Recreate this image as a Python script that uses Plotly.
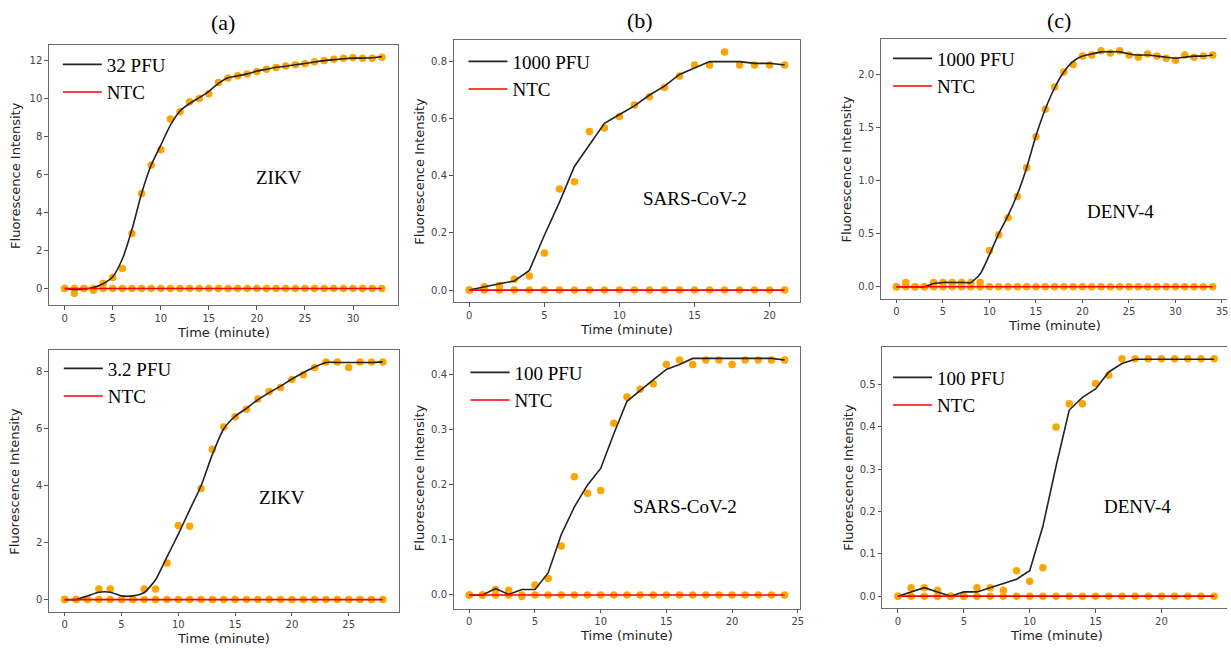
import plotly.graph_objects as go

W, H = 1231, 648

# ---------------- data ----------------
t1 = list(range(34))
dots1 = [0, -0.25, 0, -0.1, 0.26, 0.58, 1.05, 2.9, 5.0, 6.5, 7.3, 8.93, 9.3, 9.83, 10.0, 10.26,
         10.85, 11.08, 11.2, 11.29, 11.43, 11.55, 11.64, 11.71, 11.78, 11.83, 11.94, 12.0, 12.07,
         12.13, 12.16, 12.13, 12.13, 12.18]
fit1 = [0, -0.06, -0.03, 0.05, 0.25, 0.62, 1.55, 3.1, 5.0, 6.5, 7.55, 8.6, 9.35, 9.74, 10.05, 10.38,
        10.8, 11.1, 11.2, 11.3, 11.45, 11.55, 11.65, 11.7, 11.78, 11.85, 11.93, 12.0, 12.05, 12.1,
        12.13, 12.13, 12.15, 12.2]
ntc1 = [0, 0, 0, 0, 0, 0, 0, 0, 0, 0, 0, 0, 0, 0, 0, 0, 0, 0, 0, 0, 0, 0, 0, 0, 0, 0, 0, 0, 0, 0,
        0, 0, 0, 0]

t2 = list(range(22))
dots2 = [0, 0.012, 0.016, 0.038, 0.049, 0.130, 0.354, 0.379, 0.555, 0.568, 0.608, 0.648, 0.677,
         0.709, 0.75, 0.788, 0.788, 0.834, 0.788, 0.788, 0.788, 0.788]
fit2 = [0, 0.012, 0.022, 0.032, 0.069, 0.192, 0.307, 0.433, 0.507, 0.584, 0.615, 0.645, 0.683,
        0.714, 0.755, 0.777, 0.8, 0.8, 0.8, 0.794, 0.794, 0.788]
ntc2 = [0, 0, 0, 0, 0, 0, 0, 0, 0, 0, 0, 0, 0, 0, 0, 0, 0, 0, 0, 0, 0, 0]

t3 = list(range(35))
dots3 = [0, 0.04, 0, 0, 0.04, 0.04, 0.04, 0.04, 0.04, 0.04, 0.34, 0.49, 0.65, 0.85, 1.12, 1.41,
         1.67, 1.88, 2.02, 2.09, 2.17, 2.18, 2.22, 2.2, 2.22, 2.18, 2.16, 2.19, 2.17, 2.15, 2.13,
         2.18, 2.16, 2.17, 2.18]
fit3 = [0, 0.0, 0.0, 0.0, 0.03, 0.04, 0.04, 0.04, 0.04, 0.12, 0.3, 0.5, 0.67, 0.87, 1.12, 1.42,
        1.67, 1.87, 2.02, 2.12, 2.17, 2.19, 2.21, 2.21, 2.21, 2.19, 2.18, 2.18, 2.17, 2.16, 2.15,
        2.16, 2.17, 2.17, 2.18]
ntc3 = [0, 0, 0, 0, 0, 0, 0, 0, 0, 0, 0, 0, 0, 0, 0, 0, 0, 0, 0, 0, 0, 0, 0, 0, 0, 0, 0, 0, 0, 0,
        0, 0, 0, 0, 0]

t4 = list(range(29))
dots4 = [0, 0, 0, 0.37, 0.37, 0, 0, 0.37, 0.37, 1.29, 2.6, 2.58, 3.9, 5.28, 6.06, 6.42, 6.69,
         7.05, 7.31, 7.45, 7.73, 7.9, 8.15, 8.35, 8.35, 8.15, 8.35, 8.35, 8.35]
fit4 = [0, 0, 0.13, 0.26, 0.26, 0.13, 0.13, 0.25, 0.7, 1.5, 2.3, 3.15, 4.0, 5.1, 6.0, 6.44, 6.72,
        7.02, 7.27, 7.5, 7.75, 7.97, 8.17, 8.33, 8.33, 8.33, 8.33, 8.33, 8.35]
ntc4 = [0, 0, 0, 0, 0, 0, 0, 0, 0, 0, 0, 0, 0, 0, 0, 0, 0, 0, 0, 0, 0, 0, 0, 0, 0, 0, 0, 0, 0]

t5 = list(range(25))
dots5 = [0, 0, 0.01, 0.0085, -0.003, 0.018, 0.03, 0.089, 0.215, 0.185, 0.19, 0.312, 0.36, 0.374,
         0.384, 0.419, 0.427, 0.419, 0.427, 0.427, 0.419, 0.427, 0.427, 0.427, 0.427]
fit5 = [0, 0, 0.0115, 0.001, 0.01, 0.01, 0.04, 0.11, 0.16, 0.2, 0.23, 0.293, 0.352, 0.372, 0.391,
        0.41, 0.419, 0.43, 0.43, 0.43, 0.43, 0.43, 0.43, 0.43, 0.427]
ntc5 = [0, 0, 0, 0, 0, 0, 0, 0, 0, 0, 0, 0, 0, 0, 0, 0, 0, 0, 0, 0, 0, 0, 0, 0, 0]

t6 = list(range(25))
dots6 = [0, 0.02, 0.02, 0.014, 0, 0, 0.02, 0.02, 0.014, 0.06, 0.035, 0.067, 0.4, 0.455, 0.455,
         0.503, 0.522, 0.561, 0.561, 0.561, 0.561, 0.561, 0.561, 0.561, 0.561]
fit6 = [0, 0.01, 0.02, 0.01, 0, 0.01, 0.01, 0.02, 0.03, 0.04, 0.06, 0.165, 0.307, 0.44, 0.47, 0.49,
        0.53, 0.55, 0.56, 0.56, 0.56, 0.56, 0.56, 0.56, 0.56]
ntc6 = [0, 0, 0, 0, 0, 0, 0, 0, 0, 0, 0, 0, 0, 0, 0, 0, 0, 0, 0, 0, 0, 0, 0, 0, 0]

sample_labels = ["32 PFU", "1000 PFU", "1000 PFU", "3.2 PFU", "100 PFU", "100 PFU"]
virus_labels = ["ZIKV", "SARS-CoV-2", "DENV-4", "ZIKV", "SARS-CoV-2", "DENV-4"]
column_titles = ["(a)", "(b)", "(c)"]
ntc_label = "NTC"
x_title = "Time (minute)"
y_title = "Fluorescence Intensity"

y_tick_sets = [[0, 2, 4, 6, 8, 10, 12], [0, 0.2, 0.4, 0.6, 0.8], [0, 0.5, 1.0, 1.5, 2.0],
               [0, 2, 4, 6, 8], [0, 0.1, 0.2, 0.3, 0.4], [0, 0.1, 0.2, 0.3, 0.4, 0.5]]
y_tick_formats = ["d", ".1f", ".1f", "d", ".1f", ".1f"]
x_tick_sets = [[0, 5, 10, 15, 20, 25, 30], [0, 5, 10, 15, 20], [0, 5, 10, 15, 20, 25, 30, 35],
               [0, 5, 10, 15, 20, 25], [0, 5, 10, 15, 20, 25], [0, 5, 10, 15, 20, 25]]

# ---------------- layout geometry (pixels) ----------------
frames = [(49, 45, 350, 260), (455, 40, 348, 262), (883.5, 39, 349, 259.5),
          (49, 350, 351, 261.5), (455, 346.5, 348, 262), (885, 347, 349, 261)]
virus_pos = [(280, 177), (697, 199), (1124, 211), (283, 497), (687, 506), (1141, 506)]
legend_pos = [(63, 65), (470, 62), (896, 59), (64, 369), (472, 373), (896, 378)]
title_pos = [(224, 22), (642, 20), (1062, 20)]

series = [(t1, dots1, fit1, ntc1), (t2, dots2, fit2, ntc2), (t3, dots3, fit3, ntc3),
          (t4, dots4, fit4, ntc4), (t5, dots5, fit5, ntc5), (t6, dots6, fit6, ntc6)]
smooth = [True, False, True, True, False, False]

ORANGE = "#FFA500"
SERIF = "Liberation Serif, Times New Roman, serif"
SANS = "DejaVu Sans, sans-serif"

fig = go.Figure()
layout = dict(width=W, height=H, margin=dict(l=0, r=0, t=0, b=0),
              paper_bgcolor="white", plot_bgcolor="white", showlegend=True)
annotations = []


def px_x(x):
    return x / W


def px_y(y):
    return 1 - y / H


for i, (t, dots, fit, ntc) in enumerate(series):
    n = i + 1
    xa = "x" if n == 1 else f"x{n}"
    ya = "y" if n == 1 else f"y{n}"
    leg = "legend" if n == 1 else f"legend{n}"
    left, top, width, height = frames[i]

    xlo, xhi = min(t), max(t)
    xpad = 0.05 * (xhi - xlo)
    xr = [xlo - xpad, xhi + xpad]
    allv = dots + fit + ntc
    ylo, yhi = min(allv), max(allv)
    ypad = 0.05 * (yhi - ylo)
    yr = [ylo - ypad, yhi + ypad]

    right = left + width
    clipped = right > W
    if clipped:
        frac = (W - left) / width
        xr = [xr[0], xr[0] + (xr[1] - xr[0]) * frac]
        right = W

    # raw data points
    fig.add_trace(go.Scatter(x=t, y=dots, mode="markers", xaxis=xa, yaxis=ya, showlegend=False,
                             marker=dict(color=ORANGE, size=7.5, line=dict(width=0)),
                             hoverinfo="skip"))
    fig.add_trace(go.Scatter(x=t, y=ntc, mode="markers", xaxis=xa, yaxis=ya, showlegend=False,
                             marker=dict(color=ORANGE, size=7.5, line=dict(width=0)),
                             hoverinfo="skip"))
    # fitted curve and NTC line
    fig.add_trace(go.Scatter(x=t, y=fit, mode="lines", xaxis=xa, yaxis=ya, name=sample_labels[i],
                             legend=leg,
                             line=dict(color="#222222", width=1.6,
                                       shape="spline" if smooth[i] else "linear",
                                       smoothing=0.6)))
    fig.add_trace(go.Scatter(x=t, y=ntc, mode="lines", xaxis=xa, yaxis=ya, name=ntc_label,
                             legend=leg, line=dict(color="#FF0000", width=1.6)))

    axis_common = dict(showgrid=False, zeroline=False, showline=True, linecolor="#6b6b6b",
                       linewidth=1, ticks="outside", ticklen=3.5, tickwidth=0.8,
                       tickcolor="#555555",
                       tickfont=dict(family=SANS, size=10, color="#444444"))
    layout["xaxis" if n == 1 else f"xaxis{n}"] = dict(
        axis_common, domain=[px_x(left), px_x(right)], range=xr, anchor=ya,
        tickmode="array", tickvals=x_tick_sets[i], mirror=True)
    layout["yaxis" if n == 1 else f"yaxis{n}"] = dict(
        axis_common, domain=[px_y(top + height), px_y(top)], range=yr, anchor=xa,
        tickmode="array", tickvals=y_tick_sets[i], tickformat=y_tick_formats[i],
        mirror=not clipped)

    lx, ly = legend_pos[i]
    layout[leg] = dict(x=px_x(lx - 5), y=px_y(ly - 19.5), xanchor="left", yanchor="top",
                       bgcolor="rgba(0,0,0,0)", borderwidth=0,
                       font=dict(family=SERIF, size=19, color="black"),
                       itemwidth=39, tracegroupgap=0)

    vx, vy = virus_pos[i]
    annotations.append(dict(x=px_x(vx), y=px_y(vy), xref="paper", yref="paper",
                            text=virus_labels[i], showarrow=False,
                            font=dict(family=SERIF, size=19, color="black"),
                            xanchor="center", yanchor="middle"))
    annotations.append(dict(x=px_x(left + width / 2),
                            y=px_y(top + height + 27), xref="paper", yref="paper",
                            text=x_title, showarrow=False,
                            font=dict(family=SANS, size=13, color="#222222"),
                            xanchor="center", yanchor="middle"))
    annotations.append(dict(x=px_x(left - 34), y=px_y(top + height / 2), xref="paper",
                            yref="paper", text=y_title, showarrow=False, textangle=-90,
                            font=dict(family=SANS, size=13, color="#222222"),
                            xanchor="center", yanchor="middle"))

for j, ttl in enumerate(column_titles):
    tx, ty = title_pos[j]
    annotations.append(dict(x=px_x(tx), y=px_y(ty), xref="paper", yref="paper", text=ttl,
                            showarrow=False, font=dict(family=SERIF, size=22, color="black"),
                            xanchor="center", yanchor="middle"))

layout["annotations"] = annotations
fig.update_layout(**layout)
fig.write_html("out.html",
               config={"displayModeBar": False},
               post_script="document.body.style.margin='0';"
                           "document.body.style.overflow='hidden';")
